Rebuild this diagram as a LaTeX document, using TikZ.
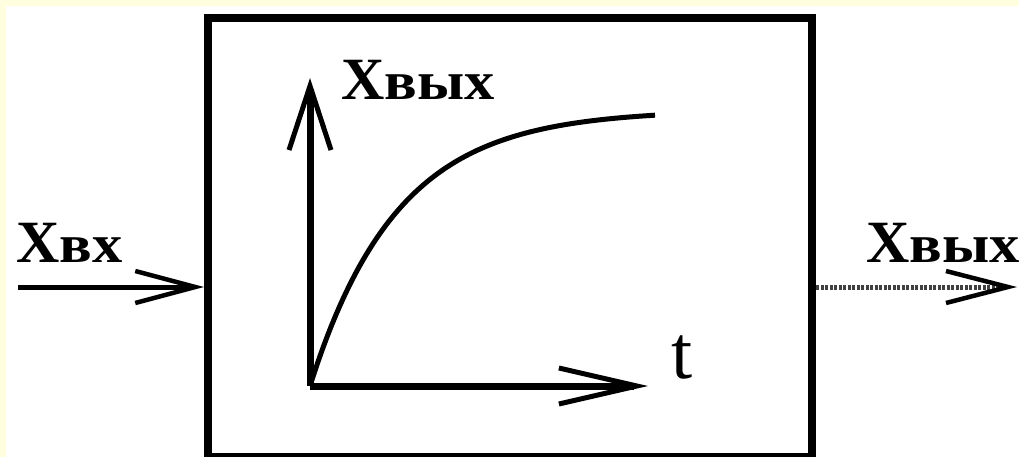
\documentclass[tikz,border=0pt]{standalone}
\usepackage{fontspec}
\setmainfont{Liberation Serif}
\newfontfamily\widefont[FakeStretch=1.12]{Liberation Serif}
\usetikzlibrary{arrows.meta}
\definecolor{bgyellow}{HTML}{FFFFE0}
\newcommand{\xlab}[1]{{\fontsize{60}{64}\selectfont\bfseries X}{\widefont\fontsize{54}{58}\selectfont\bfseries #1}}
\tikzset{
  sig/.style={line width=5pt},
  axis/.style={line width=7pt},
  lbl/.style={inner sep=0pt, anchor=base west},
}
\begin{document}
\begin{tikzpicture}[x=1pt,y=-1pt]
\useasboundingbox (0,0) rectangle (1019,457);
\clip (0,0) rectangle (1019,457);
\fill[bgyellow] (0,0) rectangle (1019,457);
\fill[white] (6,6) rectangle (1019,457);
% block
\node[draw, line width=8pt, minimum width=604pt, minimum height=439pt, inner sep=0pt] (box) at (510,237.5) {};
% input / output
\coordinate (in) at (18,287);
\coordinate (out) at (1017,287);
\draw[sig, -{Straight Barb[length=60pt, width=32pt, line width=4.5pt]}] (in) -- (in -| box.west);
\draw[line width=5pt, dash pattern=on 3pt off 1.5pt, black!75, -{Straight Barb[length=62pt, width=32pt, line width=4.5pt, color=black]}] (out -| box.east) -- (out);
\node[lbl] (lin) at (16,262) {\xlab{вх}};
\node[lbl] (lout) at (866,262) {\xlab{вых}};
% axes
\coordinate (O) at (310,386);
\coordinate (tend) at (648,386);
\coordinate (yend) at (310,78);
\draw[axis, -{Straight Barb[length=78pt, width=36pt, line width=5pt]}] (O) -- (tend);
\draw[axis, -{Straight Barb[length=64pt, width=42pt, line width=5pt]}] (O) -- (yend);
\node[lbl] (lt) at (671,378) {\fontsize{76}{80}\selectfont t};
\node[lbl] (ly) at (341,100) {\xlab{вых}};
% response curve
\draw[line width=5pt] plot[domain=0:345, samples=100, smooth] ({310+\x},{386-276*(1-exp(-0.0115*\x))});
\end{tikzpicture}
\end{document}
